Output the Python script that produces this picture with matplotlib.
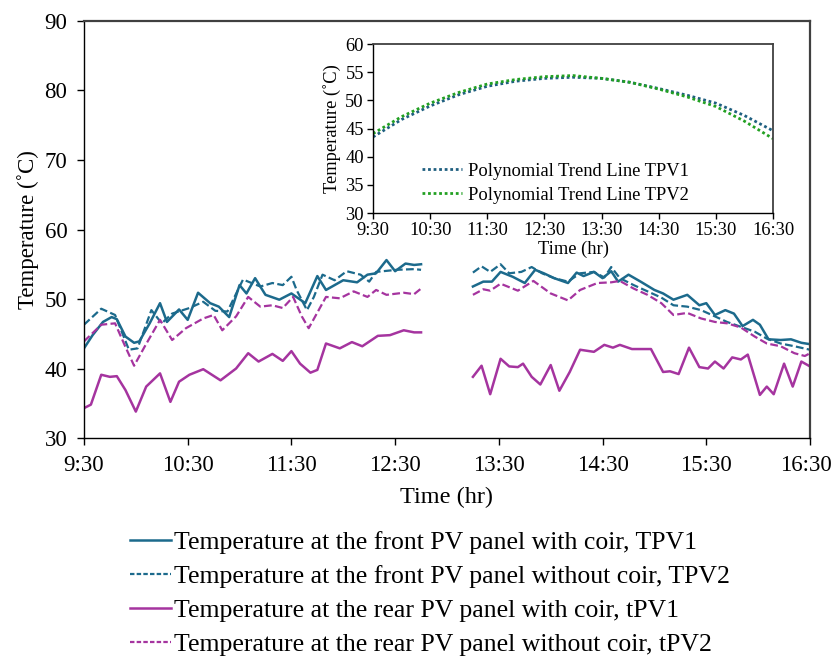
import numpy as np
import matplotlib.pyplot as plt
from matplotlib.lines import Line2D
import matplotlib.transforms as mtransforms

plt.rcParams['font.family'] = ['Liberation Serif', 'DejaVu Serif']

# minutes after 9:30, nan marks the missing data gap
t_TPV1 = [0, 5, 11, 16, 19, 24, 29, 32, 38, 44, 48, 55, 60, 66, 73, 78, 84, 90, 94, 99, 105, 113,
          120, 128, 135, 140, 150, 158, 164, 169, 175, 180, 186, 191, 195, np.nan,
          225, 231, 236, 241, 248, 255, 261, 266, 272, 280, 285, 289, 295, 300, 305, 309, 315, 322,
          330, 335, 341, 349, 356, 360, 365, 371, 376, 381, 387, 391, 396, 403, 409, 415, 420]
TPV1 = [42.9, 44.8, 46.7, 47.4, 47.1, 44.6, 43.7, 43.9, 46.5, 49.4, 46.7, 48.5, 47.0, 50.9, 49.4,
        48.9, 47.4, 52.0, 50.8, 53.0, 50.6, 49.9, 50.8, 49.4, 53.3, 51.3, 52.7, 52.4, 53.5, 53.7,
        55.6, 54.0, 55.1, 54.9, 55.0, np.nan,
        51.8, 52.5, 52.5, 53.9, 53.2, 52.3, 54.2, 53.7, 53.0, 52.3, 53.8, 53.3, 53.9, 53.0, 54.0,
        52.5, 53.5, 52.5, 51.3, 50.8, 49.9, 50.6, 49.1, 49.4, 47.7, 48.4, 47.9, 46.1, 47.0, 46.3,
        44.2, 44.1, 44.2, 43.7, 43.5]

t_TPV2 = [0, 10, 18, 26, 31, 39, 45, 51, 61, 69, 76, 83, 92, 102, 109, 115, 120, 123, 129, 133,
          138, 145, 152, 160, 165, 169, 181, 191, 195, np.nan,
          225, 230, 235, 241, 246, 253, 259, 265, 272, 280, 287, 295, 301, 305, 310, 318, 326,
          334, 341, 349, 357, 365, 372, 380, 388, 395, 403, 411, 420]
TPV2 = [46.3, 48.6, 47.7, 42.7, 42.9, 48.4, 46.5, 47.9, 48.7, 49.6, 48.3, 48.2, 52.8, 51.8, 52.3,
        52.0, 53.2, 51.3, 48.4, 50.3, 53.5, 52.7, 54.0, 53.5, 52.5, 53.9, 54.2, 54.3, 54.2, np.nan,
        53.8, 54.7, 53.9, 55.0, 53.7, 53.9, 54.6, 53.7, 53.0, 52.5, 53.7, 53.9, 53.1, 54.6, 53.0,
        52.0, 51.1, 50.2, 49.1, 48.9, 48.4, 47.5, 46.7, 46.0, 45.3, 44.3, 43.6, 43.2, 42.7]

t_tPV1 = [0, 4, 10, 15, 19, 24, 30, 36, 44, 50, 55, 61, 69, 79, 88, 95, 101, 109, 115, 120, 125,
          131, 135, 140, 148, 155, 161, 170, 177, 185, 191, 195, np.nan,
          225, 230, 235, 241, 246, 251, 254, 259, 264, 270, 275, 281, 287, 295, 301, 306, 310, 317,
          328, 335, 339, 344, 350, 356, 361, 365, 370, 375, 380, 384, 391, 395, 399, 405, 410,
          415, 420]
tPV1 = [34.3, 34.8, 39.1, 38.8, 38.9, 36.9, 33.8, 37.4, 39.3, 35.2, 38.1, 39.1, 39.9, 38.3, 40.0,
        42.2, 41.0, 42.1, 41.1, 42.5, 40.7, 39.4, 39.8, 43.6, 42.9, 43.8, 43.2, 44.7, 44.8, 45.5,
        45.2, 45.2, np.nan,
        38.8, 40.4, 36.3, 41.4, 40.3, 40.2, 40.7, 38.8, 37.7, 40.5, 36.8, 39.5, 42.7, 42.4, 43.4,
        43.0, 43.4, 42.8, 42.8, 39.5, 39.6, 39.2, 43.0, 40.2, 40.0, 41.0, 40.0, 41.6, 41.3, 42.0,
        36.2, 37.4, 36.3, 40.7, 37.4, 41.0, 40.3]

t_tPV2 = [0, 10, 18, 24, 29, 35, 44, 51, 59, 69, 75, 80, 88, 95, 102, 109, 115, 121, 126, 130,
          140, 148, 156, 164, 169, 175, 185, 191, 195, np.nan,
          225, 231, 235, 241, 251, 260, 270, 280, 287, 297, 305, 310, 318, 326, 334, 341, 349,
          357, 365, 372, 380, 388, 395, 403, 411, 417, 420]
tPV2 = [43.9, 46.3, 46.5, 43.1, 40.4, 43.1, 47.0, 44.1, 45.8, 47.2, 47.7, 45.5, 47.5, 50.3, 48.9,
        49.1, 48.7, 50.3, 47.5, 45.8, 50.3, 50.1, 51.1, 50.3, 51.3, 50.6, 50.9, 50.7, 51.5, np.nan,
        50.6, 51.4, 51.2, 52.2, 51.2, 52.6, 50.8, 49.8, 51.3, 52.3, 52.4, 52.6, 51.5, 50.6, 49.4,
        47.7, 48.0, 47.2, 46.7, 46.5, 45.9, 44.6, 43.6, 43.2, 42.2, 41.8, 42.2]

# trend lines in the inset
t_trend = [0, 30, 60, 90, 120, 150, 180, 210, 240, 270, 300, 330, 360, 390, 420]
trend_TPV1 = [43.5, 46.6, 49.0, 51.0, 52.5, 53.4, 53.9, 54.1, 53.9, 53.2, 52.1, 50.9, 49.5, 47.3, 44.6]
trend_TPV2 = [44.1, 47.1, 49.5, 51.4, 52.9, 53.7, 54.2, 54.4, 53.9, 53.2, 52.0, 50.6, 48.9, 46.3, 43.2]

tick_min = [0, 60, 120, 180, 240, 300, 360, 420]
tick_lab = ['9:30', '10:30', '11:30', '12:30', '13:30', '14:30', '15:30', '16:30']

blue = '#1c6a8c'
mag = '#a5349f'

fig = plt.figure(figsize=(8.33, 6.56), dpi=100)
ax = fig.add_axes([0.1008, 0.3323, 0.8716, 0.6357])
ax.plot(t_TPV1, TPV1, color=blue, lw=1.8)
ax.plot(t_TPV2, TPV2, color=blue, lw=1.6, ls=(0, (3.5, 1.5)))
ax.plot(t_tPV1, tPV1, color=mag, lw=1.8)
ax.plot(t_tPV2, tPV2, color=mag, lw=1.6, ls=(0, (3.5, 1.5)))
ax.set_xlim(0, 420)
ax.set_ylim(30, 90)
ax.set_xticks(tick_min)
ax.set_xticklabels(tick_lab)
ax.set_yticks(range(30, 91, 10))
ax.tick_params(labelsize=16.5, length=5, width=1, direction='out', pad=7)
# last tick label sits against the figure edge
last = ax.get_xticklabels()[-1]
last.set_transform(last.get_transform() + mtransforms.ScaledTranslation(-4 / 100, 0, fig.dpi_scale_trans))
ax.set_xlabel('Time (hr)', fontsize=17.5, labelpad=8)
ax.set_ylabel('Temperature (˚C)', fontsize=16.5, labelpad=4)
for s in ['left', 'bottom']:
    ax.spines[s].set_color('black')
    ax.spines[s].set_linewidth(1.0)
for s in ['top', 'right']:
    ax.spines[s].set_color('#404040')
    ax.spines[s].set_linewidth(1.6)

handles = [Line2D([], [], color=blue, lw=1.8),
           Line2D([], [], color=blue, lw=1.6, ls=(0, (2, 1))),
           Line2D([], [], color=mag, lw=1.8),
           Line2D([], [], color=mag, lw=1.6, ls=(0, (2, 1)))]
labels = ['Temperature at the front PV panel with coir, TPV1',
          'Temperature at the front PV panel without coir, TPV2',
          'Temperature at the rear PV panel with coir, tPV1',
          'Temperature at the rear PV panel without coir, tPV2']
fig.legend(handles, labels, loc='upper left', bbox_to_anchor=(0.156, 0.19),
           frameon=False, fontsize=18.5, handlelength=1.6, handletextpad=0.12,
           labelspacing=0.42, borderpad=0, borderaxespad=0)

# inset
ins = fig.add_axes([0.4478, 0.6753, 0.4802, 0.2576])
ins.plot(t_trend, trend_TPV1, color='#1f5f80', lw=2, ls=(0, (1, 1)),
         label='Polynomial Trend Line TPV1')
ins.plot(t_trend, trend_TPV2, color='#22a022', lw=2, ls=(0, (1, 1)),
         label='Polynomial Trend Line TPV2')
ins.set_xlim(0, 420)
ins.set_ylim(30, 60)
ins.set_xticks(tick_min)
ins.set_xticklabels(tick_lab)
ins.set_yticks(range(30, 61, 5))
ins.tick_params(labelsize=13.3, length=4, width=1, direction='out')
ins.tick_params(axis='x', pad=2.5)
ins.tick_params(axis='y', pad=2.5)
ins.set_xlabel('Time (hr)', fontsize=13.3, labelpad=1)
ins.set_ylabel('Temperature (˚C)', fontsize=13.3, labelpad=3)
for s in ['left', 'bottom']:
    ins.spines[s].set_color('black')
    ins.spines[s].set_linewidth(1.0)
for s in ['top', 'right']:
    ins.spines[s].set_color('#404040')
    ins.spines[s].set_linewidth(1.3)
ins.legend(loc='lower left', bbox_to_anchor=(0.1, 0.0), frameon=False, fontsize=13.3,
           handlelength=2.15, handletextpad=0.3, labelspacing=0.38, borderpad=0)

fig.savefig('out.png', dpi=100)
